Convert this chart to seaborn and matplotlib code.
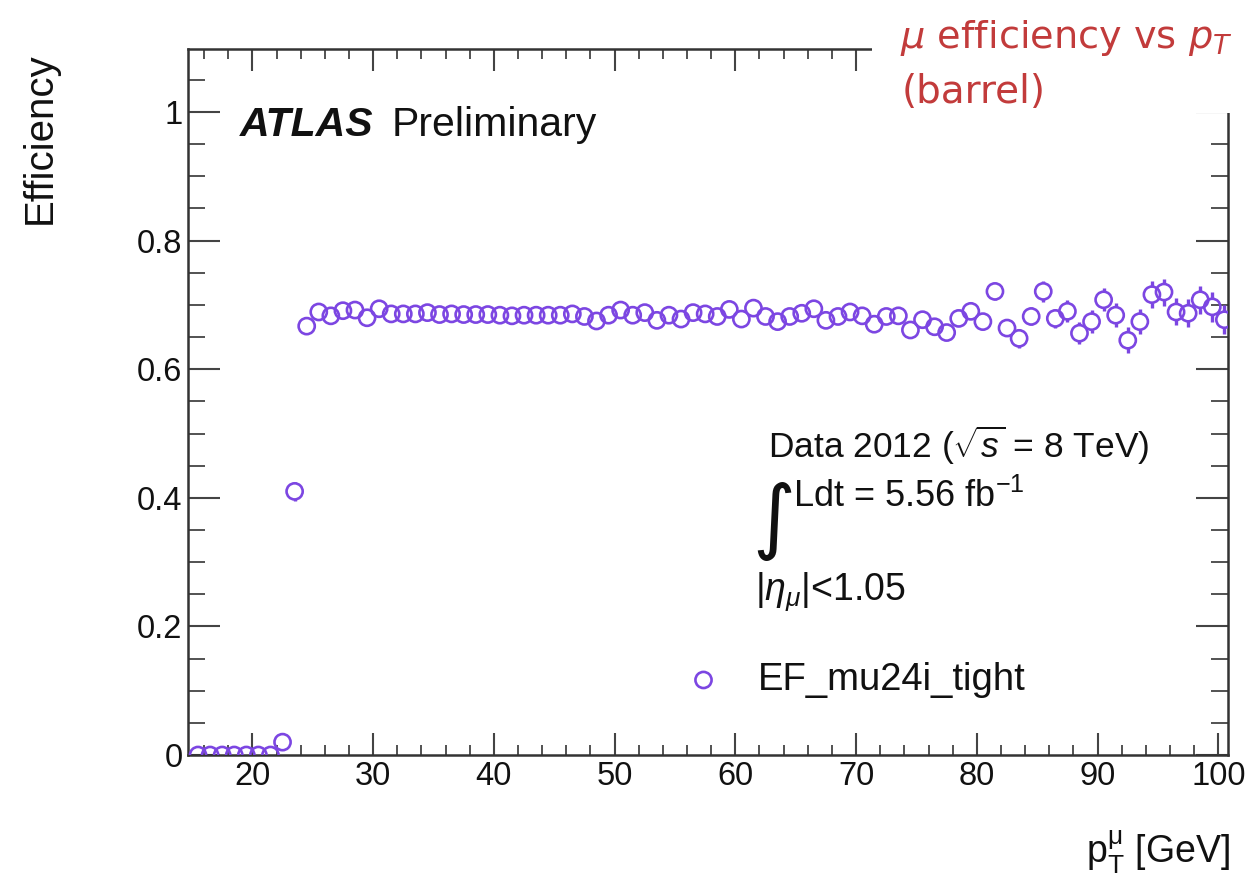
import numpy as np
import pandas as pd
import matplotlib
matplotlib.use('Agg')
import matplotlib.pyplot as plt
import seaborn as sns
from matplotlib.ticker import MultipleLocator, FuncFormatter
from matplotlib.patches import Rectangle

# ---------------- data ----------------
pt_centers = [15.5, 16.5, 17.5, 18.5, 19.5, 20.5, 21.5, 22.5, 23.5, 24.5,
              25.5, 26.5, 27.5, 28.5, 29.5, 30.5, 31.5, 32.5, 33.5, 34.5,
              35.5, 36.5, 37.5, 38.5, 39.5, 40.5, 41.5, 42.5, 43.5, 44.5,
              45.5, 46.5, 47.5, 48.5, 49.5, 50.5, 51.5, 52.5, 53.5, 54.5,
              55.5, 56.5, 57.5, 58.5, 59.5, 60.5, 61.5, 62.5, 63.5, 64.5,
              65.5, 66.5, 67.5, 68.5, 69.5, 70.5, 71.5, 72.5, 73.5, 74.5,
              75.5, 76.5, 77.5, 78.5, 79.5, 80.5, 81.5, 82.5, 83.5, 84.5,
              85.5, 86.5, 87.5, 88.5, 89.5, 90.5, 91.5, 92.5, 93.5, 94.5,
              95.5, 96.5, 97.5, 98.5, 99.5, 100.5]
efficiency = [0.0, 0.0, 0.0, 0.0, 0.0, 0.0, 0.0, 0.020, 0.410, 0.667,
              0.689, 0.683, 0.691, 0.692, 0.680, 0.694, 0.686, 0.686, 0.686, 0.688,
              0.685, 0.686, 0.685, 0.685, 0.685, 0.684, 0.683, 0.684, 0.684, 0.684,
              0.684, 0.686, 0.682, 0.675, 0.684, 0.692, 0.684, 0.688, 0.676, 0.684,
              0.678, 0.688, 0.686, 0.682, 0.693, 0.678, 0.695, 0.682, 0.674, 0.682,
              0.687, 0.694, 0.676, 0.682, 0.689, 0.683, 0.670, 0.682, 0.683, 0.661,
              0.677, 0.666, 0.657, 0.679, 0.690, 0.674, 0.721, 0.664, 0.648, 0.682,
              0.721, 0.679, 0.690, 0.656, 0.674, 0.708, 0.684, 0.645, 0.674, 0.716,
              0.720, 0.689, 0.687, 0.708, 0.697, 0.677]
eff_err = [0.003, 0.003, 0.003, 0.003, 0.003, 0.003, 0.003, 0.004, 0.015, 0.005,
           0.004, 0.004, 0.004, 0.004, 0.004, 0.004, 0.004, 0.004, 0.004, 0.004,
           0.004, 0.004, 0.004, 0.004, 0.004, 0.004, 0.004, 0.004, 0.004, 0.004,
           0.004, 0.004, 0.004, 0.004, 0.004, 0.004, 0.004, 0.004, 0.004, 0.004,
           0.005, 0.005, 0.005, 0.005, 0.005, 0.005, 0.005, 0.005, 0.006, 0.006,
           0.006, 0.006, 0.006, 0.006, 0.006, 0.007, 0.007, 0.007, 0.007, 0.007,
           0.008, 0.008, 0.008, 0.009, 0.009, 0.010, 0.013, 0.013, 0.015, 0.014,
           0.016, 0.015, 0.017, 0.017, 0.018, 0.018, 0.019, 0.020, 0.020, 0.021,
           0.021, 0.021, 0.022, 0.022, 0.023, 0.023]

series_label = 'EF_mu24i_tight'
x_ticks = [20, 30, 40, 50, 60, 70, 80, 90, 100]
y_ticks = [0, 0.2, 0.4, 0.6, 0.8, 1.0]

df = pd.DataFrame({'pt': pt_centers, 'eff': efficiency, 'err': eff_err})

# ---------------- style ----------------
sns.set_style('ticks')
plt.rcParams['font.family'] = ['Liberation Sans', 'DejaVu Sans']
plt.rcParams['mathtext.fontset'] = 'custom'
plt.rcParams['mathtext.rm'] = 'Liberation Sans'
plt.rcParams['mathtext.it'] = 'Liberation Sans:italic'
plt.rcParams['mathtext.bf'] = 'Liberation Sans:bold'

W, H = 1255, 884
fig = plt.figure(figsize=(W / 100, H / 100), dpi=100)
fig.patch.set_facecolor('white')

def fx(px):
    return px / W

def fy(py):
    return 1 - py / H

ax = fig.add_axes([fx(188), fy(755), fx(1228) - fx(188), fy(49) - fy(755)])
ax.set_xlim(14.67, 100.8)
ax.set_ylim(0, 1.098)

color = '#7C46E2'

# marker radius in data units (bars drawn only outside the open circles)
r_data = 8.0 / 643.0
up_lo = df['eff'] + r_data
up_hi = df['eff'] + df['err']
mask = up_hi > up_lo
ax.vlines(df['pt'][mask], up_lo[mask], up_hi[mask], color=color, lw=2.4, zorder=3)
ax.vlines(df['pt'][mask], (df['eff'] - df['err'])[mask], (df['eff'] - r_data)[mask],
          color=color, lw=2.4, zorder=3)

sns.scatterplot(data=df, x='pt', y='eff', ax=ax, marker='o', s=135,
                facecolor='none', edgecolor=color, linewidth=1.9,
                label=series_label, zorder=4, clip_on=True, legend=False)

# ---------------- axes styling ----------------
for sp in ax.spines.values():
    sp.set_visible(True)
    sp.set_linewidth(1.8)
    sp.set_color('#333333')

ax.set_xticks(x_ticks)
ax.set_yticks(y_ticks)
ax.xaxis.set_minor_locator(MultipleLocator(2))
ax.yaxis.set_minor_locator(MultipleLocator(0.05))
ax.yaxis.set_major_formatter(FuncFormatter(lambda v, p: ('%g' % v)))
ax.tick_params(axis='both', which='both', direction='in', top=True, right=True,
               color='#444444', labelsize=23.5, labelcolor='#111111')
ax.tick_params(axis='x', which='major', length=16, width=1.5, pad=4)
ax.tick_params(axis='x', which='minor', length=7, width=1.3)
ax.tick_params(axis='y', which='major', length=23, width=1.5, pad=4)
ax.tick_params(axis='y', which='minor', length=12, width=1.3)
ax.set_xlabel('')
ax.set_ylabel('')

# axis titles
fig.text(fx(40), fy(52), 'Efficiency', rotation=90, ha='center', va='top',
         fontsize=29, color='#111111')
fig.text(fx(1230), fy(852), r'$\mathregular{p_{T}^{\mu}}$ [GeV]', ha='right', va='center',
         fontsize=27, color='#111111')

# ATLAS label
fig.text(fx(240), fy(125), 'ATLAS', ha='left', va='center', fontsize=29.5,
         fontweight='bold', fontstyle='italic', color='#111111')
fig.text(fx(392), fy(125), 'Preliminary', ha='left', va='center', fontsize=29.5,
         color='#111111')

# info block
fig.text(fx(768), fy(445), r'Data 2012 ($\sqrt{s}$ = 8 TeV)', ha='left', va='center',
         fontsize=25.5, color='#111111')
fig.text(fx(752), fy(522), r'$\int$', ha='left', va='center', fontsize=42,
         color='#111111', math_fontfamily='dejavusans')
fig.text(fx(793), fy(497), r'Ldt = 5.56 fb$^{-1}$', ha='left', va='center',
         fontsize=26, color='#111111')
fig.text(fx(755), fy(592), r'|$\eta_{\mu}$|<1.05', ha='left', va='center',
         fontsize=27, color='#111111')

# legend
leg = ax.legend(handles=[ax.collections[-1]], labels=[series_label],
                loc='center left', bbox_to_anchor=(fx(693), fy(680)),
                bbox_transform=fig.transFigure, frameon=False, fontsize=27.5,
                handlelength=0.55, handletextpad=1.15, borderpad=0, borderaxespad=0,
                scatterpoints=1)
for t in leg.get_texts():
    t.set_color('#111111')

# white box + red title in the top-right corner
fig.patches.append(Rectangle((fx(872), fy(113)), 1 - fx(872), 1 - fy(113),
                             transform=fig.transFigure, facecolor='white',
                             edgecolor='none', zorder=5))
red = '#C23B3B'
fig.text(fx(900), fy(38), r'$\mu$ efficiency vs $p_T$', ha='left', va='center',
         fontsize=27.5, color=red, family='DejaVu Sans', math_fontfamily='dejavusans',
         zorder=6)
fig.text(fx(902), fy(92), '(barrel)', ha='left', va='center', fontsize=28,
         color=red, family='DejaVu Sans', zorder=6)

fig.savefig('out.png', dpi=100, facecolor='white')
